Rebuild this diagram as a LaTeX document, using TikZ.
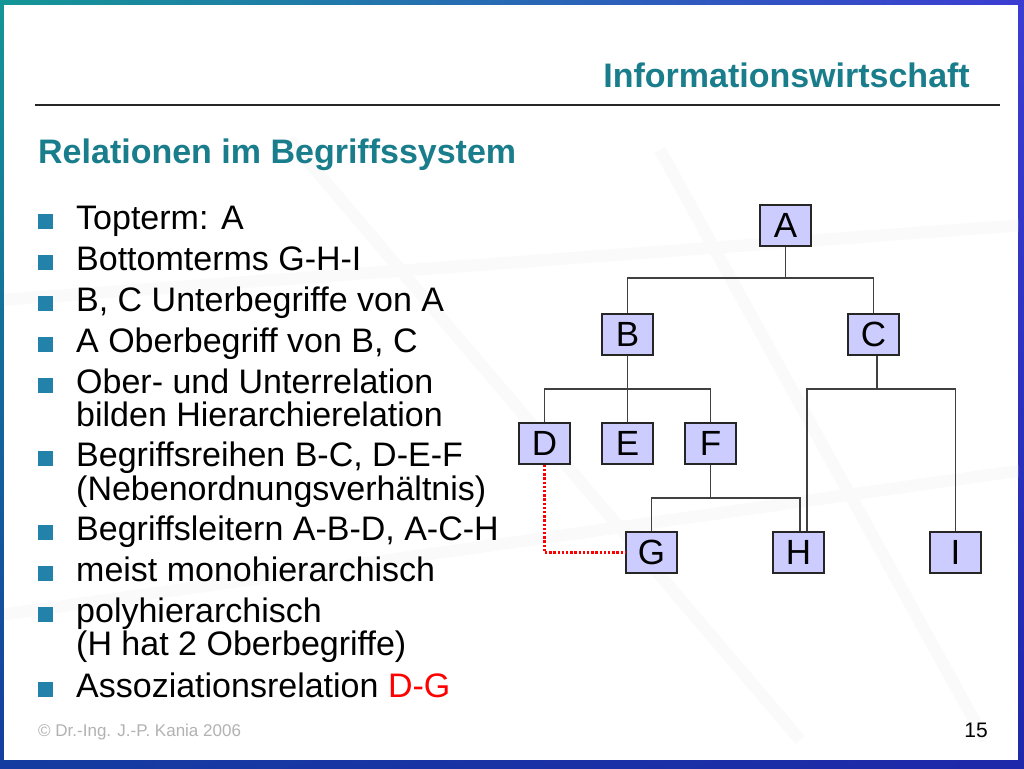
\documentclass[tikz,border=0pt]{standalone}
\usepackage{fontspec}
\setmainfont{Liberation Sans}
\usetikzlibrary{shadings}

\definecolor{slideteal}{RGB}{25,125,140}
\definecolor{bulletblue}{RGB}{35,130,170}
\definecolor{boxlilac}{RGB}{204,204,255}
\definecolor{frameUL}{RGB}{20,150,150}
\definecolor{frameUR}{RGB}{60,60,210}
\definecolor{frameLL}{RGB}{20,60,160}
\definecolor{frameLR}{RGB}{30,40,170}

\def\cT{slideteal}
\def\cBul{bulletblue}
\def\cBox{boxlilac}

\tikzstyle{term} = [draw=black!85, fill=\cBox, rectangle,
                    minimum width=51pt, minimum height=41pt,
                    inner sep=0pt, line width=1.7pt,
                    font=\fontsize{35}{35}\selectfont]
\tikzstyle{link} = [black!75, line width=1.7pt]
\tikzstyle{assoc} = [red, line width=2.6pt,
                     dash pattern=on 2.4pt off 1.8pt]
\tikzstyle{sq} = [fill=\cBul, rectangle, minimum size=15pt,
                  inner sep=0pt, anchor=south west]
\tikzstyle{txt} = [anchor=base west, inner sep=0pt,
                   font=\fontsize{34}{34}\selectfont]
\tikzstyle{wm} = [gray!4, line width=12pt]

\begin{document}
\begin{tikzpicture}[x=1pt,y=-1pt]
\useasboundingbox (0,0) rectangle (1024,768);

% frame and slide background
\shade[upper left=frameUL, upper right=frameUR,
       lower left=frameLL, lower right=frameLR]
     (0,0) rectangle (1024,768);
\fill[white] (4,5) rectangle (1018,760);

\begin{scope}
\clip (4,5) rectangle (1018,750);
\draw[wm] (0,300) -- (1024,225);
\draw[wm] (0,615) -- (1024,470);
\draw[wm] (290,140) -- (800,740);
\draw[wm] (660,150) -- (985,740);
\end{scope}

% header
\node[anchor=base east, inner sep=0pt, \cT,
      font=\fontsize{34}{34}\selectfont\bfseries]
     at (970,87) (title) {Informationswirtschaft};
\draw[black!85, line width=1.6pt] (35,105) -- (1000,105);
\node[anchor=base west, inner sep=0pt, \cT,
      font=\fontsize{34}{34}\selectfont\bfseries]
     at (38,163) (heading) {Relationen im Begriffssystem};

% bullet items
\foreach \y/\txt [count=\i] in {
     229/{Topterm: A},
     270/{Bottomterms G-H-I},
     311/{B, C Unterbegriffe von A},
     352/{A Oberbegriff von B, C},
     393/{Ober- und Unterrelation},
     466/{Begriffsreihen B-C, D-E-F},
     540/{Begriffsleitern A-B-D, A-C-H},
     581/{meist monohierarchisch},
     622/{polyhierarchisch},
     697/{Assoziationsrelation \textcolor{red}{D-G}}}
{
  \node[sq] at (38,\y) (sq\i) {};
  \node[txt] at (76,\y) (item\i) {\txt};
}

% second lines
\node[txt] at (76,426) (item5b) {bilden Hierarchierelation};
\node[txt] at (76,500) (item6b) {(Nebenordnungsverhältnis)};
\node[txt] at (76,655) (item9b) {(H hat 2 Oberbegriffe)};

% tree of terms
\node[term] at (785.5,225.5) (A) {A};
\node[term] at (627.5,334.5) (B) {B};
\node[term] at (873.5,334.5) (C) {C};
\node[term] at (544.5,443.5) (D) {D};
\node[term] at (627.5,443.5) (E) {E};
\node[term] at (710.5,443.5) (F) {F};
\node[term] at (651.5,552.5) (G) {G};
\node[term] at (798.5,552.5) (H) {H};
\node[term] at (955.5,552.5) (I) {I};

\coordinate (barA) at (785.5,278);
\coordinate (barB) at (627.5,389);
\coordinate (barC) at (877,389);
\coordinate (barF) at (710.5,498);

\draw[link] (A.south) -- (barA);
\draw[link] (B.north) |- (barA) -| (C.north);

\draw[link] (B.south) -- (E.north);
\draw[link] (D.north) |- (barB) -| (F.north);

\draw[link] ([xshift=3.5pt]C.south) -- (barC);
\draw[link] ([xshift=8.5pt]H.north) |- (barC) -| (I.north);

\draw[link] (F.south) -- (barF);
\draw[link] (G.north) |- (barF) -| ([xshift=1.5pt]H.north);

\draw[assoc] (D.south) |- (G.west);

% footer
\node[anchor=base west, inner sep=0pt, gray!60,
      font=\fontsize{17}{17}\selectfont]
     at (38,736) (copy) {© Dr.-Ing. J.-P. Kania 2006};
\node[anchor=base east, inner sep=0pt,
      font=\fontsize{21}{21}\selectfont]
     at (988,737) (pageno) {15};

\end{tikzpicture}
\end{document}
